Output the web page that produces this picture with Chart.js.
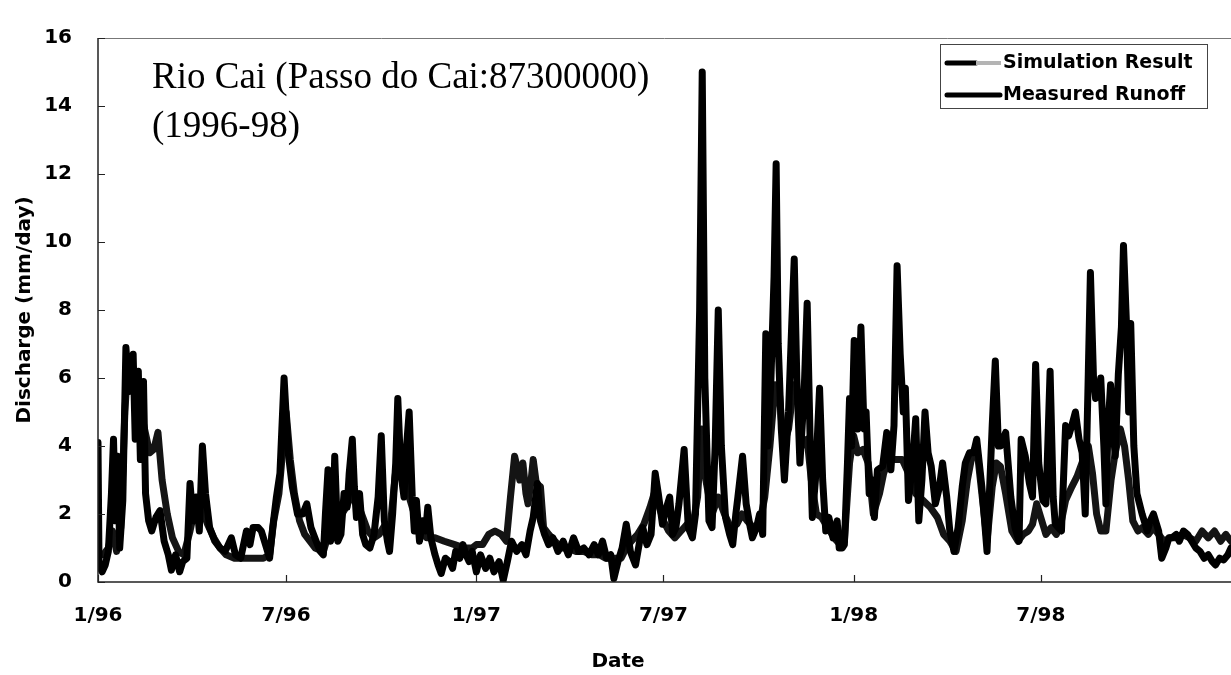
<!DOCTYPE html>
<html lang="en">
<head>
<meta charset="UTF-8" />
<title>Rio Cai - Passo do Cai discharge 1996-98</title>
<script src="https://cdn.jsdelivr.net/npm/chart.js"></script>
<style>
  html, body { margin: 0; padding: 0; background: #fff; }
</style>
</head>
<body>
<canvas id="chart" width="1231" height="675"></canvas>
<script>
  // x axis is in days since 1 Jan 1996
  const tickDays = [0, 182, 366, 547, 731, 912];
  const tickLabels = ['1/96', '7/96', '1/97', '7/97', '1/98', '7/98'];
  const dayMax = 1096;
  const yMax = 16;

  // measured runoff [day, mm/day]
  const measured = [
    [0,4.1],[1,0.5],[4,0.3],[7,0.5],[10,0.9],[13,2.6],[15,4.2],[17,1.8],[19,3.7],[21,1.0],
    [24,2.4],[27,6.9],[30,5.6],[34,6.7],[36,4.2],[39,6.2],[41,3.6],[44,5.9],[46,2.6],[49,1.8],
    [52,1.5],[56,1.9],[60,2.1],[64,1.2],[68,0.8],[71,0.35],[75,0.8],[79,0.3],[82,0.6],[86,0.7],
    [89,2.9],[92,1.8],[95,2.5],[98,1.5],[101,4.0],[104,2.6],[108,1.6],[113,1.2],[118,1.0],[123,0.9],
    [129,1.3],[133,0.8],[138,0.7],[143.6,1.5],[147,1.1],[150,1.6],[155,1.6],[158,1.5],[162,1.1],[166,0.7],
    [169,1.6],[172.6,2.5],[176,3.2],[180,6.0],[184,3.8],[188,2.8],[193,2.0],[198,2.0],[202,2.3],[206,1.6],
    [211,1.2],[215,0.9],[218,0.8],[220,2.0],[222.5,3.3],[225,1.2],[227,1.5],[229,3.7],[232,1.2],[235,1.4],
    [238,2.6],[241,2.2],[243,3.2],[246,4.2],[248,2.8],[250,1.9],[253,2.6],[256,1.4],[259,1.1],[263,1.0],
    [267,1.4],[271,2.5],[274,4.3],[277,1.8],[280,1.2],[282,0.9],[285,2.0],[288,3.5],[290,5.4],[293,3.2],
    [296,2.5],[298,3.8],[301,5.0],[304,2.5],[306,1.5],[308,2.4],[311,1.2],[314,1.8],[317,1.5],[319,2.2],
    [322,1.3],[326,0.8],[329,0.5],[332,0.25],[336,0.7],[340,0.6],[343,0.4],[346,0.9],[350,0.7],[353,1.1],
    [356,0.8],[359,0.6],[362,0.9],[366,0.3],[370,0.8],[375,0.4],[379,0.7],[383,0.3],[388,0.6],[392,0.05],
    [396,0.6],[400,1.2],[405,0.9],[410,1.1],[414,0.8],[418,1.5],[421,1.9],[425,2.9],[428,1.8],[432,1.4],
    [436,1.1],[440,1.3],[445,0.9],[450,1.2],[455,0.8],[460,1.3],[465,0.9],[470,1.0],[475,0.8],[480,1.1],
    [484,0.8],[488,1.2],[492,0.7],[496,0.8],[499,0.1],[503,0.6],[507,1.0],[511,1.7],[515,0.9],[520,0.5],
    [524,1.2],[527,1.6],[531,1.1],[535,1.4],[539,3.2],[542,2.6],[546,1.7],[550,2.2],[553,2.5],[556,1.4],
    [559,1.6],[562,2.3],[567,3.9],[571,1.6],[575,1.3],[578,2.0],[582,8.0],[584.5,15.0],[587,6.0],[591,1.8],
    [594,1.6],[597,4.0],[600,8.0],[603,4.0],[607,1.9],[611,1.4],[614,1.1],[617,2.0],[619,2.5],[623.5,3.7],
    [627,2.3],[631,1.6],[633,1.3],[637,1.6],[640,2.0],[643,1.4],[646,7.3],[648,4.0],[651,6.0],[654,9.0],
    [656,12.3],[658,7.0],[661,4.5],[664,3.0],[668,5.0],[671,7.5],[673.5,9.5],[676,6.0],[679,3.5],[683,5.5],
    [686,8.2],[689,4.0],[691,1.9],[694,3.0],[698,5.7],[701,3.0],[704,1.5],[707,1.9],[711,1.3],[715,1.8],
    [717,1.0],[720,1.0],[722,1.1],[725,3.5],[727,5.4],[729,4.0],[731.5,7.1],[735,4.5],[738,7.5],[741,4.5],
    [743,5.0],[746,2.6],[749,3.0],[751,1.9],[754,3.3],[759,3.4],[763,4.4],[767,3.3],[770,4.6],[773,9.3],
    [776,6.7],[779,5.0],[781,5.7],[784,2.4],[788,3.5],[791,4.8],[794,1.8],[797,3.0],[800,5.0],[803,3.8],
    [806,3.4],[810,2.3],[814,2.8],[817,3.5],[821,2.5],[824,1.5],[828,0.9],[832,1.6],[836,2.8],[839,3.5],
    [843,3.8],[847,3.8],[850,4.2],[855,2.8],[860,0.9],[865,4.6],[868,6.5],[871,4.0],[873,4.0],[878,4.4],
    [883,2.5],[887,1.6],[891,1.2],[893,4.2],[897,3.7],[901,2.9],[904,2.5],[907,6.4],[910,3.5],[914,2.4],
    [917,2.3],[921,6.2],[924,2.5],[926,1.7],[929,1.6],[932,1.5],[936,4.6],[939,4.3],[942,4.6],[945.5,5.0],
    [949,4.2],[952,3.8],[955,2.0],[958,6.2],[960,9.1],[963,6.0],[965,5.4],[968,5.5],[970,6.0],[973,4.0],
    [975,2.3],[977,4.5],[979.5,5.8],[982,4.5],[984,3.7],[987,6.1],[990,7.5],[992,9.9],[995,7.5],[997,5.0],
    [999,7.6],[1002,4.0],[1005,2.6],[1010,2.0],[1015,1.5],[1018,1.8],[1021,2.0],[1026,1.5],[1029,0.7],[1033,1.0],
    [1036,1.3],[1039,1.3],[1043,1.4],[1046,1.2],[1050,1.5],[1054,1.4],[1058,1.2],[1062,1.0],[1066,0.9],[1070,0.7],
    [1074,0.8],[1078,0.6],[1081,0.5],[1085,0.7],[1089,0.65],[1093,0.8],[1096,1.0]
  ];

  // simulation result [day, mm/day]
  const simulated = [
    [0,0.8],[5,0.8],[10,1.0],[14,1.5],[18,0.9],[22,1.6],[26,5.0],[29,6.5],[34,6.3],[39,5.4],
    [45,4.5],[50,3.8],[54,3.9],[58,4.4],[62,3.0],[67,2.0],[72,1.3],[78,0.9],[83,0.8],[89,1.5],
    [94,2.2],[100,2.2],[106,1.7],[112,1.3],[118,1.0],[124,0.8],[132,0.7],[140,0.7],[150,0.7],[160,0.7],
    [166,0.8],[170,1.8],[175,2.6],[179,4.0],[182,5.0],[186,3.6],[190,2.6],[195,1.8],[200,1.4],[205,1.2],
    [210,1.0],[218,0.9],[224,1.5],[232,1.8],[240,2.2],[246,2.6],[250,2.4],[255,2.0],[261,1.5],[267,1.3],
    [272,1.4],[278,1.7],[282,1.4],[287,3.0],[291,4.0],[296,3.5],[301,2.5],[306,2.0],[312,1.5],[318,1.3],
    [326,1.3],[335,1.2],[345,1.1],[355,1.0],[362,1.0],[366,1.1],[372,1.1],[378,1.4],[384,1.5],[390,1.4],
    [395,1.2],[399,2.5],[403,3.7],[406,3.3],[408,3.0],[411,3.5],[414,2.6],[416,2.3],[419,3.0],[421,3.6],
    [424,2.9],[428,2.8],[431,1.6],[436,1.4],[442,1.2],[448,1.0],[455,1.0],[462,0.9],[470,0.9],[478,0.8],
    [485,0.8],[491,0.7],[500,0.7],[506,0.7],[511,1.0],[516,1.2],[522,1.4],[528,1.7],[534,2.2],[538,2.6],
    [542,2.3],[547,1.8],[552,1.5],[558,1.3],[564,1.5],[570,1.7],[575,1.6],[580,2.5],[584,4.5],[588,3.0],
    [594,2.0],[600,2.5],[606,2.0],[612,1.6],[618,1.7],[623,2.0],[628,1.8],[634,1.6],[640,1.7],[645,2.5],
    [650,4.0],[655,5.8],[659,5.6],[663,4.0],[668,4.5],[673,5.8],[677,5.5],[681,4.0],[686,4.2],[690,3.0],
    [695,2.0],[700,1.9],[706,1.6],[712,1.3],[718,1.1],[722,1.2],[727,3.5],[731,4.3],[735,3.8],[740,3.9],
    [745,3.5],[750,2.0],[756,2.6],[760,3.2],[765,3.6],[770,3.6],[778,3.6],[784,3.2],[791,2.6],[798,2.4],
    [805,2.2],[812,1.9],[818,1.4],[824,1.2],[830,0.9],[836,1.8],[841,3.0],[846,3.8],[850,4.0],[855,2.6],
    [860,1.2],[865,2.8],[869,3.5],[873,3.4],[878,2.6],[884,1.5],[890,1.2],[895,1.4],[900,1.5],[904,1.7],
    [908,2.3],[912,1.9],[917,1.4],[922,1.6],[927,1.4],[932,1.8],[936,2.4],[942,2.8],[947,3.1],[953,3.6],
    [958,4.0],[962,3.2],[966,2.0],[970,1.5],[975,1.5],[980,3.0],[984,3.8],[989,4.5],[993,4.0],[997,3.0],
    [1001,1.8],[1006,1.5],[1010,1.6],[1016,1.4],[1021,1.6],[1026,1.4],[1031,1.2],[1037,1.3],[1043,1.3],[1049,1.4],
    [1056,1.3],[1062,1.2],[1068,1.5],[1074,1.3],[1080,1.5],[1086,1.2],[1091,1.4],[1096,1.2]
  ];

  const toPoints = arr => arr.map(p => ({ x: p[0], y: p[1] }));
  const tickFont = { family: 'DejaVu Sans', size: 20, weight: 'bold' };

  // frame, inner tick marks, titles and boxed legend
  const decor = {
    id: 'decor',
    afterDraw(chart) {
      const { ctx, chartArea: a, scales: { x, y } } = chart;
      ctx.save();

      ctx.strokeStyle = '#222';
      ctx.lineWidth = 1.5;
      ctx.beginPath();
      ctx.moveTo(a.left, a.top);
      ctx.lineTo(a.left, a.bottom);
      ctx.lineTo(a.right, a.bottom);
      ctx.stroke();
      ctx.strokeStyle = '#777';
      ctx.lineWidth = 1;
      ctx.beginPath();
      ctx.moveTo(a.left, a.top + 0.5);
      ctx.lineTo(a.right, a.top + 0.5);
      ctx.stroke();

      ctx.strokeStyle = '#222';
      ctx.lineWidth = 1.2;
      ctx.beginPath();
      for (let v = 0; v <= yMax; v += 2) {
        const py = Math.round(y.getPixelForValue(v)) + 0.5;
        ctx.moveTo(a.left, py);
        ctx.lineTo(a.left + 7, py);
      }
      tickDays.forEach(d => {
        const px = Math.round(x.getPixelForValue(d)) + 0.5;
        ctx.moveTo(px, a.bottom);
        ctx.lineTo(px, a.bottom - 7);
      });
      ctx.stroke();

      ctx.fillStyle = '#000';
      ctx.font = '37px "Liberation Serif"';
      ctx.textBaseline = 'alphabetic';
      ctx.textAlign = 'left';
      ctx.fillText('Rio Cai (Passo do Cai:87300000)', 152, 88);
      ctx.fillText('(1996-98)', 152, 137);

      ctx.font = 'bold 20px "DejaVu Sans"';
      ctx.textAlign = 'center';
      ctx.textBaseline = 'middle';
      ctx.fillText('Date', 618, 662);
      ctx.save();
      ctx.translate(25, (a.top + a.bottom) / 2);
      ctx.rotate(-Math.PI / 2);
      ctx.fillText('Discharge (mm/day)', 0, 0);
      ctx.restore();

      // legend
      ctx.fillStyle = '#fff';
      ctx.fillRect(940, 44, 267, 64);
      ctx.strokeStyle = '#444';
      ctx.lineWidth = 1;
      ctx.strokeRect(940.5, 44.5, 267, 64);
      ctx.lineCap = 'round';
      ctx.lineWidth = 5;
      ctx.strokeStyle = '#000';
      ctx.beginPath();
      ctx.moveTo(947, 63); ctx.lineTo(976, 63);
      ctx.moveTo(947, 95); ctx.lineTo(1000, 95);
      ctx.stroke();
      ctx.lineCap = 'butt';
      ctx.lineWidth = 4;
      ctx.strokeStyle = '#b4b4b4';
      ctx.beginPath();
      ctx.moveTo(976, 63); ctx.lineTo(1001, 63);
      ctx.stroke();
      ctx.fillStyle = '#000';
      ctx.font = 'bold 19px "DejaVu Sans"';
      ctx.textAlign = 'left';
      ctx.fillText('Simulation Result', 1003, 63);
      ctx.fillText('Measured Runoff', 1003, 95);

      ctx.restore();
    }
  };

  new Chart(document.getElementById('chart'), {
    type: 'line',
    data: {
      datasets: [
        {
          label: 'Measured Runoff',
          data: toPoints(measured),
          borderColor: '#000',
          borderWidth: 7,
          pointRadius: 0,
          tension: 0,
          borderJoinStyle: 'round',
          borderCapStyle: 'round',
          order: 1
        },
        {
          label: 'Simulation Result',
          data: toPoints(simulated),
          borderColor: '#141414',
          borderWidth: 7,
          pointRadius: 0,
          tension: 0,
          borderJoinStyle: 'round',
          borderCapStyle: 'round',
          order: 2
        }
      ]
    },
    options: {
      responsive: false,
      animation: false,
      devicePixelRatio: 1,
      layout: { padding: { top: 20, right: 0, bottom: 0, left: 0 } },
      plugins: { legend: { display: false }, tooltip: { enabled: false } },
      scales: {
        x: {
          type: 'linear',
          min: 0,
          max: dayMax,
          afterBuildTicks: s => { s.ticks = tickDays.map(v => ({ value: v })); },
          afterFit: s => { s.height = 93; },
          ticks: {
            autoSkip: false,
            maxRotation: 0,
            padding: 22,
            color: '#000',
            font: tickFont,
            callback: v => tickLabels[tickDays.indexOf(v)]
          },
          grid: { display: false, drawTicks: false },
          border: { display: false }
        },
        y: {
          min: 0,
          max: yMax,
          afterFit: s => { s.width = 98; },
          ticks: { stepSize: 2, padding: 26, color: '#000', font: tickFont },
          grid: { display: false, drawTicks: false },
          border: { display: false }
        }
      }
    },
    plugins: [decor]
  });
</script>
</body>
</html>
